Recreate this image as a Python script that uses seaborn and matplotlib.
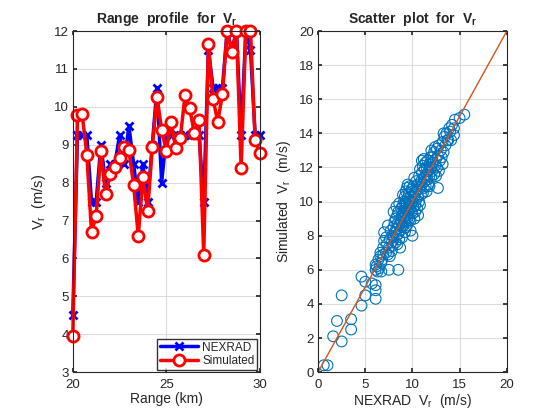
import numpy as np
import pandas as pd
import matplotlib
matplotlib.use("Agg")
import matplotlib.pyplot as plt
import seaborn as sns

# Range profile (every 0.25 km from 20 to 30 km)
range_km = np.arange(41) * 0.25 + 20
nexrad_profile = [4.5, 9.25, 9.25, 9.25, 7.5, 7.5, 9.0, 8.0, 8.5, 8.5,
                  9.25, 8.5, 9.5, 8.5, 7.5, 8.5, 7.5, 9.0, 10.5, 8.0,
                  9.25, 9.25, 9.25, 9.25, 9.25, 9.25, 9.25, 9.25, 7.5, 11.5,
                  10.5, 10.5, 10.5, 12.0, 11.5, 12.0, 9.25, 12.0, 11.5, 9.25,
                  9.25]
sim_profile = [3.95, 9.78, 9.8, 8.74, 6.7, 7.12, 8.83, 7.7, 8.22, 8.4,
               8.66, 8.94, 8.85, 7.94, 6.6, 8.15, 7.26, 8.94, 10.27, 9.4,
               8.83, 9.6, 8.92, 9.19, 10.3, 9.96, 9.3, 9.65, 6.09, 11.65,
               10.2, 9.61, 10.33, 12.0, 11.44, 12.0, 8.39, 12.0, 12.0, 9.13,
               8.78]

# Scatter: NEXRAD vs simulated
scatter_nexrad = [0.6, 1.0, 1.6, 2.0, 2.5, 2.5, 3.5, 3.5, 4.6, 4.6, 5.0, 5.0, 5.7, 6.1, 6.1, 6.1, 6.1, 6.1,
                  6.6, 6.7, 7.5, 8.5, 7.0, 7.0,
                  6.2, 6.4, 6.5, 6.6, 6.8, 6.9, 6.3, 6.7, 6.9,
                  7.2, 7.3, 7.4, 7.5, 7.6, 7.7, 7.8, 7.8, 7.9, 7.4, 7.6, 7.9, 7.2,
                  8.0, 8.0, 8.1, 8.1, 8.2, 8.2, 8.3, 8.3, 8.4, 8.4, 8.5, 8.5, 8.6, 8.6, 8.7, 8.7,
                  8.8, 8.8, 8.9, 8.9, 8.0, 8.3, 8.6, 8.9, 8.4, 8.7,
                  9.0, 9.0, 9.0, 9.1, 9.1, 9.2, 9.2, 9.2, 9.3, 9.3, 9.3, 9.4, 9.4, 9.4, 9.5, 9.5,
                  9.5, 9.6, 9.6, 9.6, 9.7, 9.7, 9.7, 9.8, 9.8, 9.8, 9.9, 9.9, 9.9, 9.0, 9.2, 9.5,
                  9.8, 9.3, 9.6, 9.4, 9.7, 9.1,
                  10.0, 10.0, 10.0, 10.1, 10.1, 10.2, 10.2, 10.3, 10.3, 10.4, 10.4, 10.5, 10.5,
                  10.6, 10.6, 10.7, 10.7, 10.8, 10.8, 10.9, 10.9, 10.0, 10.2, 10.6, 10.3, 10.8,
                  11.0, 11.0, 11.1, 11.1, 11.2, 11.2, 11.3, 11.3, 11.4, 11.4, 11.5, 11.5, 11.6,
                  11.6, 11.7, 11.7, 11.8, 11.8, 11.9, 11.9, 11.5, 11.2, 11.8, 11.0,
                  12.0, 12.0, 12.1, 12.1, 12.2, 12.3, 12.3, 12.4, 12.5, 12.5, 12.6, 12.6, 12.7,
                  12.8, 12.8, 12.9, 12.7, 12.4, 12.0,
                  13.0, 13.1, 13.2, 13.3, 13.4, 13.5, 13.6, 13.7, 13.9, 13.2, 13.3, 13.8,
                  14.0, 14.1, 14.2, 14.4, 14.5, 14.4, 15.0, 15.5]
scatter_sim = [0.4, 0.4, 2.1, 3.0, 1.8, 4.5, 2.5, 3.1, 3.9, 5.6, 5.3, 4.5, 5.2, 5.1, 4.8, 4.3, 6.3, 6.0,
               6.8, 5.9, 6.0, 6.0, 8.2, 7.7,
               6.2, 6.6, 6.1, 7.0, 6.6, 6.9, 5.9, 6.4, 7.3,
               7.0, 7.5, 6.9, 7.3, 7.8, 8.3, 7.1, 7.6, 8.0, 8.6, 6.8, 7.4, 7.9,
               7.9, 8.5, 8.2, 8.8, 7.6, 9.0, 8.4, 8.0, 9.2, 8.7, 8.1, 9.4, 8.6, 7.8, 9.0, 8.3,
               9.6, 8.8, 8.5, 9.2, 9.4, 9.7, 9.9, 7.9, 7.5, 7.3,
               9.0, 8.6, 9.8, 9.4, 10.0, 8.9, 9.6, 10.3, 9.2, 8.5, 10.6, 9.9, 9.5, 10.8, 9.1, 10.2,
               8.8, 9.7, 10.5, 9.3, 10.0, 9.0, 10.9, 9.6, 10.3, 8.9, 9.9, 10.7, 9.4, 10.4, 8.2, 11.0,
               8.3, 10.0, 10.1, 8.6, 9.5, 9.1,
               10.0, 9.3, 10.6, 9.7, 10.9, 10.3, 9.0, 10.5, 9.8, 11.2, 10.1, 10.7, 9.6,
               11.0, 10.3, 11.5, 10.0, 10.8, 11.9, 11.2, 10.4, 8.0, 11.4, 9.2, 9.4, 9.8,
               11.0, 11.7, 10.5, 12.1, 11.4, 10.8, 11.9, 11.2, 12.3, 10.9, 11.6, 12.0, 11.3,
               12.4, 11.8, 11.0, 12.2, 11.5, 12.6, 11.9, 10.6, 12.5, 10.9, 12.4,
               12.0, 11.4, 12.6, 11.8, 12.3, 11.6, 12.9, 12.1, 11.5, 12.5, 13.1, 12.0, 12.7,
               11.8, 13.3, 12.4, 10.8, 13.2, 13.0,
               13.0, 12.6, 13.5, 12.9, 13.8, 13.3, 14.0, 13.6, 14.3, 12.2, 14.0, 13.6,
               14.1, 13.6, 14.5, 13.9, 14.8, 14.3, 14.9, 15.1]
one_to_one = [0, 20]

sns.set_theme(style="ticks")
plt.rcParams["font.family"] = ["Liberation Sans", "DejaVu Sans"]
plt.rcParams["mathtext.fontset"] = "custom"
plt.rcParams["mathtext.rm"] = "Liberation Sans"
plt.rcParams["mathtext.it"] = "Liberation Sans"
plt.rcParams["mathtext.bf"] = "Liberation Sans:bold"

fig = plt.figure(figsize=(5.6, 4.2), dpi=100)
ax1 = fig.add_axes([0.130, 0.114, 0.334, 0.812])
ax2 = fig.add_axes([0.568, 0.114, 0.337, 0.812])

# 1. Range profile
sns.lineplot(x=range_km, y=nexrad_profile, ax=ax1, color="blue", lw=2.5,
             marker="x", ms=5.5, mew=2, mec="blue", label="NEXRAD", clip_on=False)
sns.lineplot(x=range_km, y=sim_profile, ax=ax1, color="red", lw=2.5,
             marker="o", ms=8, mew=2, mfc="white", mec="red", label="Simulated",
             clip_on=False)
ax1.set_xlim(20, 30)
ax1.set_ylim(3, 12)
ax1.set_xticks([20, 25, 30])
ax1.set_yticks(range(3, 13))
ax1.set_title(r"Range  profile  for  V$_\mathbf{r}$", fontsize=10, fontweight="bold")
ax1.set_xlabel("Range (km)", fontsize=10, labelpad=1)
ax1.set_ylabel(r"V$_\mathrm{r}$  (m/s)", fontsize=10.5)
ax1.legend(loc="lower right", fontsize=8.5, frameon=True, fancybox=False,
           edgecolor="black", borderpad=0.25, labelspacing=0.1,
           handlelength=3.2, handletextpad=0.4, borderaxespad=0.2)

# 2. Scatter plot
sns.scatterplot(x=scatter_nexrad, y=scatter_sim, ax=ax2, s=60, marker="o",
                facecolors="none", edgecolor="#0072BD", linewidth=0.8)
sns.lineplot(x=one_to_one, y=one_to_one, ax=ax2, color="#D95319", lw=1)
ax2.set_xlim(0, 20)
ax2.set_ylim(0, 20)
ax2.set_xticks(range(0, 21, 5))
ax2.set_yticks(range(0, 21, 2))
ax2.set_title(r"Scatter  plot  for  V$_\mathbf{r}$", fontsize=10, fontweight="bold")
ax2.set_xlabel(r"NEXRAD  V$_\mathrm{r}$  (m/s)", fontsize=10, labelpad=1)
ax2.set_ylabel(r"Simulated  V$_\mathrm{r}$  (m/s)", fontsize=10)

for ax in (ax1, ax2):
    ax.grid(True, color="#dcdcdc", lw=0.8)
    ax.set_axisbelow(True)
    ax.tick_params(direction="in", length=3, labelsize=9.5, colors="#262626",
                   top=True, right=True, pad=3)
    ax.tick_params(axis="x", pad=5)
    for sp in ax.spines.values():
        sp.set_color("#262626")
        sp.set_linewidth(0.8)
        sp.set_visible(True)

fig.savefig("out.png", dpi=100)
